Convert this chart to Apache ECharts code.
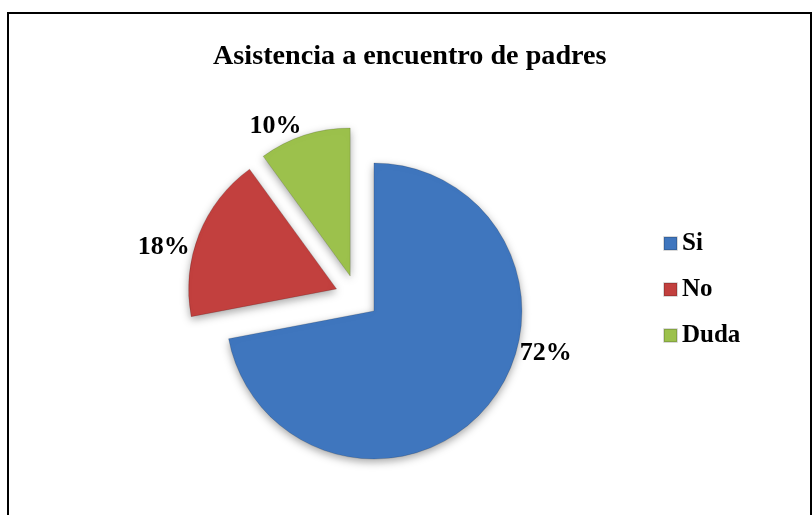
<!DOCTYPE html>
<html>
<head>
<meta charset="utf-8">
<script src="https://cdn.jsdelivr.net/npm/echarts@6/dist/echarts.min.js"></script>
<style>
html,body{margin:0;padding:0;background:#fff;}
#chart{width:812px;height:515px;}
</style>
</head>
<body>
<div id="chart"></div>
<script>
var titleText = 'Asistencia a encuentro de padres';
var categories = ['Si', 'No', 'Duda'];
var values = [72, 18, 10];
var colors = ['#3f76be', '#c2403e', '#9cc14c'];
var labelShifts = [[19, -58], [5, 17], [5, 0]];

var serif = '"Liberation Serif", "Times New Roman", serif';
var chart = echarts.init(document.getElementById('chart'), null, {renderer: 'canvas'});

var data = categories.map(function (c, i) {
  return {
    name: c,
    value: values[i],
    selected: true,
    itemStyle: {color: colors[i]}
  };
});

chart.setOption({
  backgroundColor: '#ffffff',
  animation: false,
  title: {
    text: titleText,
    left: 208,
    top: 38,
    textStyle: {fontFamily: serif, fontWeight: 'bold', fontSize: 28.2, color: '#000'}
  },
  legend: {
    orient: 'vertical',
    left: 658,
    top: 226,
    itemWidth: 13,
    itemHeight: 13,
    itemGap: 21,
    icon: 'rect',
    selectedMode: false,
    textStyle: {fontFamily: serif, fontWeight: 'bold', fontSize: 25, color: '#000'},
    data: categories
  },
  graphic: [{
    type: 'rect',
    shape: {x: 8, y: 13, width: 803, height: 520},
    style: {fill: 'none', stroke: '#000', lineWidth: 2},
    silent: true
  }],
  series: [{
    type: 'pie',
    center: [357, 297],
    radius: [0, 148],
    startAngle: 90,
    clockwise: true,
    selectedMode: 'multiple',
    selectedOffset: 22,
    avoidLabelOverlap: false,
    emphasis: {disabled: true},
    itemStyle: {
      borderColor: 'rgba(0,0,0,0.15)',
      borderWidth: 1,
      shadowBlur: 8,
      shadowOffsetY: 3,
      shadowColor: 'rgba(0,0,0,0.35)'
    },
    label: {
      show: true,
      position: 'outside',
      formatter: '{d}%',
      fontFamily: serif,
      fontWeight: 'bold',
      fontSize: 26,
      color: '#000'
    },
    labelLine: {show: false, length: 10, length2: 0},
    labelLayout: function (params) {
      var s = labelShifts[params.dataIndex];
      return {dx: s[0], dy: s[1]};
    },
    data: data
  }]
});
</script>
</body>
</html>
